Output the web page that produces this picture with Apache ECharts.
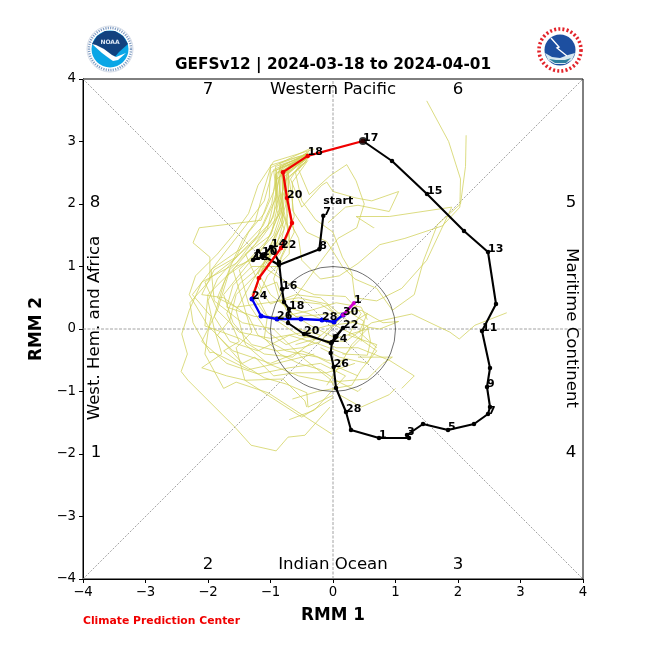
<!DOCTYPE html>
<html><head><meta charset="utf-8">
<style>html,body{margin:0;padding:0;background:#fff}#c{width:650px;height:650px}</style>
<script src="https://cdn.jsdelivr.net/npm/echarts@6/dist/echarts.min.js"></script>
</head><body><div id="c"></div>
<script>
const titleText='GEFSv12 | 2024-03-18 to 2024-04-01';
const tickValues=[-4,-3,-2,-1,0,1,2,3,4];
const analysisLabels=['start\n7','8','','10','','12','','14','','16','','18','','20','','22','','24','','26','','28','','1','','3','','5','','7','','9','','11','','13','','15','','17'];
const analysisX=[-0.155,-0.219,-0.864,-1.136,-1.2,-1.28,-1.136,-0.992,-0.864,-0.816,-0.784,-0.704,-0.72,-0.464,-0.032,0.16,0.032,-0.016,-0.037,0.011,0.048,0.208,0.288,0.736,1.216,1.184,1.44,1.84,2.256,2.48,2.512,2.464,2.512,2.384,2.608,2.48,2.096,1.504,0.944,0.48];
const analysisY=[1.813,1.275,1.024,1.184,1.248,1.104,1.152,1.312,1.072,0.64,0.432,0.32,0.096,-0.08,-0.224,0.016,-0.128,-0.208,-0.384,-0.608,-0.944,-1.328,-1.616,-1.744,-1.744,-1.696,-1.52,-1.616,-1.52,-1.36,-1.248,-0.928,-0.624,-0.032,0.4,1.232,1.568,2.16,2.688,3.008];
const redLabels=['','18','','20','','22','','24'];
const redX=[0.48,-0.405,-0.8,-0.736,-0.656,-0.832,-1.184,-1.296];
const redY=[3.008,2.77,2.51,2.096,1.696,1.296,0.816,0.48];
const blueLabels=['','','26','','28','','30'];
const blueX=[-1.296,-1.152,-0.896,-0.512,-0.176,0.016,0.16];
const blueY=[0.48,0.208,0.16,0.16,0.144,0.112,0.224];
const magentaLabels=['','1'];
const magentaX=[0.16,0.336];
const magentaY=[0.224,0.416];
const ensemble=[
[[-.42,2.8],[-1.0,2.62],[-1.02,2.1],[-1.15,1.74],[-2.14,1.62],[-2.24,1.38],[-1.97,1.15],[-1.97,.78],[-2.29,.42],[-2.24,.1],[-1.97,-.38],[-1.92,-.37],[-1.35,-.65],[-.9,-.55],[-.3,-.4]],
[[-.42,2.76],[-.9,2.55],[-.98,2.0],[-1.2,1.5],[-1.55,1.05],[-2.1,.75],[-2.3,.3],[-2.42,-.08],[-2.33,-.4],[-2.43,-.68],[-2.32,-.82],[-1.57,-1.57],[-1.31,-1.86],[-.91,-1.95],[-.72,-1.73],[-.45,-1.7],[-.05,-1.25]],
[[-.38,2.82],[-.85,2.6],[-.85,2.15],[-1.0,1.7],[-1.5,1.2],[-1.85,.8],[-2.0,.45],[-1.9,.0],[-1.78,-.4],[-2.1,-.62],[-2.07,-.62],[-1.7,-.75],[-1.4,-.82],[-.8,-.8],[-.45,-1.15],[-.42,-1.25]],
[[-.45,2.78],[-.8,2.62],[-.9,2.25],[-.95,1.8],[-1.25,1.35],[-1.6,.95],[-1.45,.45],[-1.3,-.05],[-1.55,-.3],[-1.41,-.82],[-.5,-1.41],[0,-1.1]],
[[-.42,2.75],[-.92,2.48],[-.9,1.9],[-.78,1.6],[-1.05,1.1],[-1.5,.72],[-1.7,.25],[-1.5,-.2],[-1.75,-.35],[-1.55,-.5],[-1.1,-.78],[-.75,-.88],[-.42,-1.02],[-.4,-1.25],[0,-1.06]],
[[-.4,2.8],[-.75,2.55],[-.75,2.0],[-.72,1.55],[-.85,1.2],[-1.25,.85],[-1.55,.55],[-1.65,.15],[-1.85,-.1],[-1.45,-.55],[-1.25,-.45],[-.95,-.75],[-.6,-.7],[-.1,-.7],[.35,-.55]],
[[-.45,2.72],[-.97,2.52],[-1.1,2.05],[-1.4,1.65],[-1.75,1.2],[-2.25,.55],[-1.95,.2],[-2.0,-.05],[-2.05,-.4],[-1.75,-.95],[-1.55,-.85],[-1.04,-1.02],[-.02,-1.68]],
[[-.42,2.74],[-.85,2.45],[-.85,1.95],[-.7,1.6],[-.7,1.2],[-1.05,.85],[-1.2,.5],[-1.05,.2],[-1.1,-.15],[-.85,-.4],[-.55,-.55],[-.2,-.65],[.1,-.85],[.4,-1.0],[.45,-.95]],
[[-.38,2.77],[-.72,2.48],[-.7,1.95],[-.62,1.55],[-.82,1.15],[-.95,.8],[-.85,.45],[-.6,.2],[-.3,.22],[.05,.25],[.45,.3],[.8,.1],[1.05,.12],[.75,.0],[.55,.03]],
[[-.42,2.7],[-.78,2.35],[-.72,1.85],[-.82,1.45],[-1.1,1.0],[-1.3,.55],[-1.1,.25],[-.85,.1],[-.55,-.1],[-.15,-.18],[.2,-.2],[.62,.1],[1.26,.24],[1.87,-.05],[2.02,-.16],[2.27,.06],[2.78,.26]],
[[-.35,2.8],[-.8,2.42],[-.82,1.9],[-.95,1.5],[-1.35,1.05],[-1.75,.55],[-1.6,.1],[-1.3,-.25],[-.9,-.35],[-.5,-.3],[-.2,-.2],[.05,.1],[.25,.28],[.5,.12],[.45,-.2]],
[[-.42,2.82],[-.9,2.5],[-.92,2.15],[-1.05,1.6],[-1.6,1.1],[-2.05,.75],[-1.85,.3],[-1.5,-.05],[-1.0,-.15],[-.45,-.05],[-.1,.05],[.3,.1],[.55,.25],[.42,-.05],[.7,-.3]],
[[-.4,2.74],[-.7,2.6],[-.85,2.05],[-.8,1.7],[-1.0,1.35],[-1.05,.95],[-.7,.72],[-.3,.55],[.2,.52],[.45,.25],[.25,-.1],[.7,-.25],[.55,-.55],[.1,-.45],[-.2,-.3]],
[[-.42,2.78],[-.88,2.42],[-.78,1.75],[-.9,1.35],[-1.2,.9],[-1.0,.55],[-.75,.35],[-.4,.25],[-.05,.1],[.35,-.1],[.7,-.35],[.45,-.65],[.3,-.9],[-.25,-1.0],[-.65,-1.12]],
[[-.4,2.8],[-.95,2.55],[-.9,2.12],[-1.12,1.65],[-1.45,1.3],[-1.95,.95],[-1.9,.45],[-1.45,.1],[-.95,.0],[-.5,-.45],[-.05,-.8],[.1,-1.05],[.45,-1.25],[.9,-1.05],[1.0,-.95]],
[[-.42,2.72],[-.82,2.5],[-.8,1.98],[-1.05,1.42],[-1.5,.95],[-1.35,.4],[-1.05,-.05],[-.75,-.25],[-.35,-.1],[.05,-.3],[.4,-.3],[.9,-.5],[1.3,-.75],[1.1,-.95]],
[[-.38,2.85],[-.72,2.6],[-.72,2.1],[-.68,1.7],[-.55,1.45],[-.5,1.1],[-.2,.8],[.1,.85],[.4,1.05],[.75,1.35],[1.15,1.45],[1.75,1.65],[2.03,1.95],[2.04,2.4],[1.85,3.0],[1.5,3.65]],
[[-.4,2.7],[-.65,2.35],[-.65,1.9],[-.42,1.55],[-.1,1.4],[.15,1.0],[.35,.8],[.7,.65],[.95,.3],[1.3,.55],[1.45,1.1],[1.67,1.67],[2.04,2.0],[2.12,2.6],[2.13,3.1]],
[[-.42,2.76],[-.6,2.5],[-.5,2.05],[-.28,1.75],[.0,1.55],[.15,1.15],[.3,.9],[.35,.5],[.7,.45],[1.1,.65],[1.5,1.1],[1.9,1.95],[.9,1.8],[.37,1.8],[.65,1.62],[.66,1.63]],
[[-.36,2.78],[-.55,2.55],[-.38,2.15],[-.05,2.45],[.22,2.63],[.37,2.37],[.5,2.0],[.38,1.62],[.08,1.45],[-.22,1.05],[-.45,.72],[-.65,.45],[-.2,.4],[.1,.2]],
[[-.42,2.8],[-.68,2.4],[-.5,1.95],[-.18,2.3],[-.1,2.35],[.0,2.2],[.35,2.1],[.62,2.05],[1.05,2.2],[.9,1.88],[.4,1.98],[.2,1.95],[-.08,1.7]],
[[-.4,2.75],[-.85,2.58],[-.95,2.2],[-1.1,1.85],[-1.35,1.55],[-1.55,1.15],[-1.9,.95],[-2.1,.55],[-1.75,.5],[-1.35,.2],[-1.2,-.1],[-.75,-.35],[-.25,-.45],[.05,-.6],[.4,-.75]],
[[-.42,2.68],[-.75,2.4],[-.82,1.7],[-1.0,1.25],[-1.3,.75],[-1.55,.3],[-1.4,-.25],[-1.05,-.55],[-.55,-.75],[-.05,-.85],[.55,-.8],[.8,-.55],[.95,-.45],[.4,-.45]],
[[-.42,2.77],[-.92,2.6],[-.88,2.0],[-.98,1.55],[-1.15,1.25],[-1.7,.85],[-1.85,.5],[-1.55,.35],[-1.05,.42],[-.55,.5],[-.1,.4],[.1,.15],[-.25,-.15],[-.6,-.25]],
[[-.4,2.82],[-.82,2.52],[-.75,2.0],[-.88,1.62],[-1.05,1.2],[-1.22,.7],[-1.0,.4],[-.6,.55],[-.2,.5],[.25,.12],[.55,.05],[.6,-.2],[.55,-.42],[.15,-.4]],
[[-.42,2.72],[-.9,2.4],[-.85,1.85],[-1.15,1.45],[-1.65,.95],[-1.85,.3],[-2.1,-.2],[-1.7,-.55],[-1.2,-.72],[-.7,-.62],[-.2,-.55],[.2,-.75],[-.3,-1.3],[-.7,-1.45]],
[[-.38,2.76],[-.78,2.55],[-.82,2.08],[-.7,1.45],[-.9,1.0],[-1.3,1.0],[-1.6,.7],[-1.7,.35],[-1.25,.2],[-.8,.2],[-.35,.3],[.05,.42],[.45,.35],[.55,.15]],
[[-.42,2.8],[-.85,2.65],[-.78,2.2],[-.92,1.72],[-1.0,1.5],[-1.4,1.2],[-1.15,.65],[-.9,.75],[-.75,.3],[-.35,.05],[.05,-.15],[.55,.0],[.3,-.25],[.1,-.6],[-.1,-.9]],
[[-.4,2.78],[-.72,2.5],[-.66,2.12],[-.62,1.8],[-.75,1.42],[-1.2,1.15],[-1.55,1.0],[-2.0,.55],[-2.05,.05],[-1.5,-.15],[-1.1,-.4],[-.65,-.45],[-.2,-.1],[-.55,.0],[-.85,.15]],
[[-.3,2.88],[-.95,2.68],[-1.2,2.3],[-1.35,1.85],[-1.6,1.5],[-1.85,1.2],[-2.2,.85],[-2.3,.55],[-2.0,.05],[-1.6,-.35],[-1.0,-.55],[-.5,-.35],[-.1,-.5],[.2,-.5]],
[[-.34,2.9],[-1.0,2.58],[-1.12,2.18],[-1.25,1.7],[-1.45,1.42],[-1.62,1.05],[-1.75,.72],[-1.9,.2],[-1.65,-.2],[-1.2,-.35],[-.7,-.1],[-.2,-.25],[.2,-.4],[.45,-.15]]
];
const yellowColor='#d0d058';
const circleCenter=[[0,0,1]];
const refLines=[[[-4,-4],[4,4]],[[-4,4],[4,-4]],[[-4,0],[4,0]],[[0,-4],[0,4]]];
const phaseTexts=[
  ['7',208,90,0],['6',458,90,0],['Western Pacific',333,90,0],
  ['8',95,203,0],['5',571,203,0],['1',96,453,0],['4',571,453,0],
  ['2',208,565,0],['3',458,565,0],['Indian Ocean',333,565,0],
  ['West. Hem. and Africa',95,328,90],['Maritime Continent',571,328,-90]
];
const FONT='"DejaVu Sans"';
const zip=(a,b,l)=>a.map((v,i)=>({value:[v,b[i]],lab:l?l[i]:''}));
function track(name,xs,ys,labs,color,lw,size){
  return {name,type:'line',data:zip(xs,ys,labs),z:5,symbol:'circle',symbolSize:size,showSymbol:true,showAllSymbol:true,
    lineStyle:{color,width:lw},itemStyle:{color},animation:false,clip:true,
    label:{show:true,position:[size/2,size/2+2.5],align:'left',verticalAlign:'bottom',color:'#000',fontFamily:FONT,fontWeight:'bold',fontSize:11,lineHeight:11.5,
      formatter:p=>p.data.lab||''},labelLayout:{hideOverlap:false},emphasis:{disabled:true}};
}
const series=[];
refLines.forEach((d,i)=>series.push({type:'line',data:d,symbol:'none',silent:true,animation:false,z:1,
  lineStyle:{color:'#8a8a8a',width:0.8,type:i<2?[2,1.5]:[3,1.5]}}));
ensemble.forEach(d=>series.push({type:'line',data:d,symbol:'none',silent:true,animation:false,z:2,
  lineStyle:{color:yellowColor,width:0.75}}));
series.push({type:'custom',data:circleCenter,z:3,silent:true,animation:false,coordinateSystem:'cartesian2d',
  renderItem:(p,api)=>{const c=api.coord([api.value(0),api.value(1)]);const r=api.size([api.value(2),0])[0];
    return {type:'circle',shape:{cx:c[0],cy:c[1],r},style:{fill:'none',stroke:'#333',lineWidth:0.7}};}});
series.push(track('analysis',analysisX,analysisY,analysisLabels,'#000',2.1,4.5));
series.push(track('red',redX,redY,redLabels,'#f00000',2.3,4.5));
series.push(track('blue',blueX,blueY,blueLabels,'#0000f0',2.3,5));
series.push(track('magenta',magentaX,magentaY,magentaLabels,'#d000d0',2.6,4));
series.push({type:'scatter',data:[[analysisX[analysisX.length-1],analysisY[analysisY.length-1]]],symbolSize:8,z:6,itemStyle:{color:'#000'},silent:true,animation:false});

const graphics=[];
phaseTexts.forEach(t=>graphics.push({type:'text',x:t[1],y:t[2],rotation:t[3]*Math.PI/180,z:10,
  style:{text:t[0],font:'16.6px '+FONT,fill:'#000',align:'center',verticalAlign:'middle'}}));
graphics.push({type:'text',x:333,y:65,z:10,style:{text:titleText,font:'bold 15.3px '+FONT,fill:'#000',align:'center',verticalAlign:'middle'}});
graphics.push({type:'text',x:83,y:621,z:10,style:{text:'Climate Prediction Center',font:'bold 10.8px '+FONT,fill:'#f00000',align:'left',verticalAlign:'middle'}});
// NOAA logo
graphics.push({type:'group',x:110,y:49,z:10,children:[
  {type:'circle',shape:{cx:0,cy:0,r:23},style:{fill:'#fff',stroke:'#c8d0e0',lineWidth:0.8}},
  {type:'circle',shape:{cx:0,cy:0,r:21},style:{fill:'none',stroke:'#2a5a9a',lineWidth:2.4,lineDash:[1.2,1.2],opacity:0.6}},
  {type:'circle',shape:{cx:0,cy:0,r:18.5},style:{fill:'#0aa6e6'}},
  {type:'polygon',shape:{points:[[-18,-5],[-13,-13],[-5,-18],[5,-18],[13,-13],[18,-5],[9,3],[4,9],[0,10],[-5,5],[-11,0]]},style:{fill:'#12427f'}},
  {type:'polygon',shape:{points:[[-18,-5],[-8,4],[0,10],[3,12],[8,11],[16,4],[6,8],[2,6],[-6,0],[-14,-4]]},style:{fill:'#fff'}},
  {type:'text',x:0,y:-7,style:{text:'NOAA',font:'bold 6px '+FONT,fill:'#dfe8f5',align:'center',verticalAlign:'middle'}}
]});
// NWS logo
graphics.push({type:'group',x:560,y:50,z:10,children:[
  {type:'circle',shape:{cx:0,cy:0,r:21},style:{fill:'#fff',stroke:'#e2232a',lineWidth:3.6,lineDash:[2,2.2]}},
  {type:'circle',shape:{cx:0,cy:0,r:17},style:{fill:'#fff'}},
  {type:'circle',shape:{cx:0,cy:0,r:15.5},style:{fill:'#1d4fa0'}},
  {type:'polygon',shape:{points:[[-15,3],[-8,7],[0,8],[8,5],[15,3],[12,10],[5,14],[-5,14],[-12,10]]},style:{fill:'#d8e8f0'}},
  {type:'polygon',shape:{points:[[-11,9],[-4,10],[5,10],[11,8],[6,13],[-5,13]]},style:{fill:'#2d7f9f'}},
  {type:'polyline',shape:{points:[[-9,-12],[-1,-3],[-3,-2],[7,6]]},style:{stroke:'#fff',lineWidth:1.4,fill:'none'}}
]});

const axisCommon={min:-4,max:4,interval:1,splitLine:{show:false},
  axisLine:{onZero:false,lineStyle:{color:'#000',width:1}},
  axisTick:{show:true,length:4,lineStyle:{color:'#000',width:1}},
  axisLabel:{fontFamily:FONT,fontSize:13.3,color:'#000',margin:7,showMinLabel:true,showMaxLabel:true,hideOverlap:false,
    formatter:v=>String(v).replace('-','\u2212')},
  nameLocation:'middle',nameTextStyle:{fontFamily:FONT,fontWeight:'bold',fontSize:16.8,color:'#000'}};
const chart=echarts.init(document.getElementById('c'),null,{renderer:'canvas',width:650,height:650});
chart.setOption({animation:false,backgroundColor:'#fff',
  grid:{left:83,top:79,width:500,height:500,show:true,borderColor:'#000',borderWidth:1,backgroundColor:'transparent'},
  xAxis:Object.assign({type:'value',name:'RMM 1',nameGap:28,customValues:tickValues},axisCommon),
  yAxis:Object.assign({type:'value',name:'RMM 2',nameGap:26,customValues:tickValues},axisCommon),
  graphic:{elements:graphics},
  series});
</script></body></html>
